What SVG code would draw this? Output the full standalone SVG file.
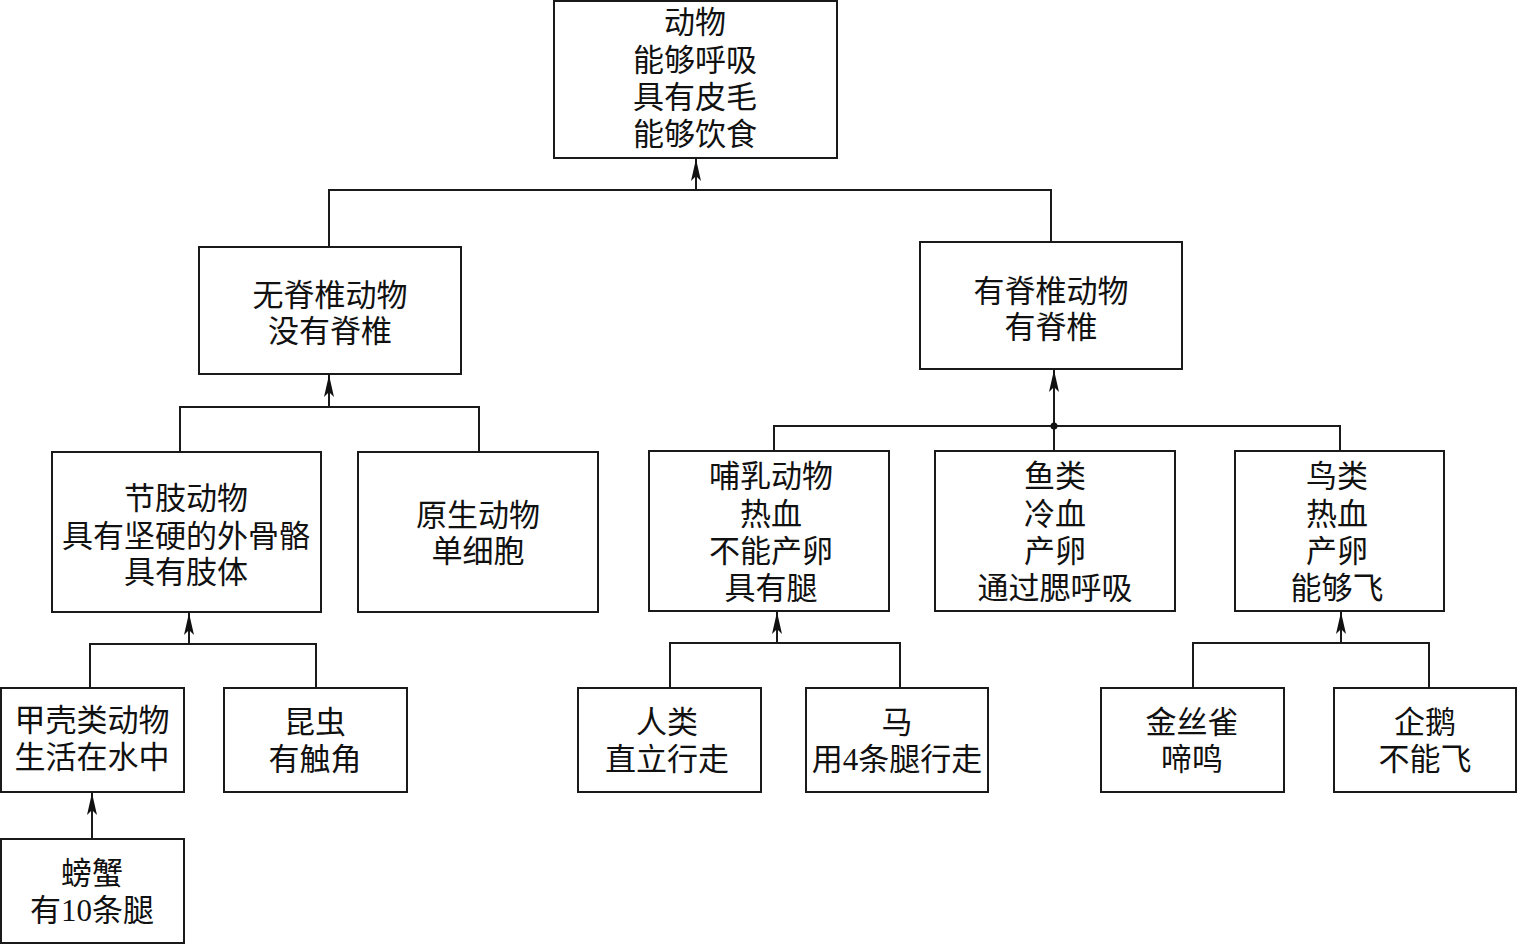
<svg xmlns="http://www.w3.org/2000/svg" width="1517" height="945" viewBox="0 0 1517 945">
<style>
rect.n{fill:#fff;stroke:#1a1a1a;stroke-width:2}
text{font-family:"Liberation Serif","Noto Sans CJK SC",serif;font-size:31px;fill:#111;text-anchor:middle;dominant-baseline:central}
.c path,.c line{stroke:#1a1a1a;stroke-width:2;fill:none}
</style>
<defs>
<marker id="arr" markerUnits="userSpaceOnUse" markerWidth="22" markerHeight="11" refX="22" refY="5.5" orient="auto" viewBox="0 0 22 11">
<path d="M22,5.5 L0,0.5 L5,5.5 L0,10.5 Z" fill="#111"/>
</marker>
</defs>
<g class="c" id="connectors">
<path d="M329,247 V190 H1051 V242"/>
<line x1="696" y1="190" x2="696" y2="159" marker-end="url(#arr)"/>
<path d="M180,452 V407 H479 V452"/>
<line x1="329" y1="407" x2="329" y2="375" marker-end="url(#arr)"/>
<path d="M774,451 V426 H1340 V451"/>
<line x1="1054" y1="451" x2="1054" y2="370" marker-end="url(#arr)"/>
<circle cx="1054" cy="426" r="3.5" fill="#111" stroke="none"/>
<path d="M90,688 V644 H316 V688"/>
<line x1="189" y1="644" x2="189" y2="613" marker-end="url(#arr)"/>
<line x1="92" y1="839" x2="92" y2="793" marker-end="url(#arr)"/>
<path d="M670,688 V643 H900 V688"/>
<line x1="777" y1="643" x2="777" y2="612" marker-end="url(#arr)"/>
<path d="M1193,688 V643 H1429 V688"/>
<line x1="1341" y1="643" x2="1341" y2="612" marker-end="url(#arr)"/>
</g>
<g id="animal"><rect class="n" x="554" y="1" width="283" height="157"/>
<text x="695" y="22">动物</text><text x="695" y="60">能够呼吸</text><text x="695" y="97">具有皮毛</text><text x="695" y="134">能够饮食</text></g>
<g id="invertebrate"><rect class="n" x="199" y="247" width="262" height="127"/>
<text x="330" y="295">无脊椎动物</text><text x="330" y="331">没有脊椎</text></g>
<g id="vertebrate"><rect class="n" x="920" y="242" width="262" height="127"/>
<text x="1051" y="291">有脊椎动物</text><text x="1051" y="327">有脊椎</text></g>
<g id="arthropod"><rect class="n" x="52" y="452" width="269" height="160"/>
<text x="186" y="498">节肢动物</text><text x="186" y="536">具有坚硬的外骨骼</text><text x="186" y="572">具有肢体</text></g>
<g id="protozoa"><rect class="n" x="358" y="452" width="240" height="160"/>
<text x="478" y="515">原生动物</text><text x="478" y="551">单细胞</text></g>
<g id="mammal"><rect class="n" x="649" y="451" width="240" height="160"/>
<text x="771" y="476">哺乳动物</text><text x="771" y="514">热血</text><text x="771" y="551">不能产卵</text><text x="771" y="588">具有腿</text></g>
<g id="fish"><rect class="n" x="935" y="451" width="240" height="160"/>
<text x="1055" y="476">鱼类</text><text x="1055" y="514">冷血</text><text x="1055" y="551">产卵</text><text x="1055" y="588">通过腮呼吸</text></g>
<g id="bird"><rect class="n" x="1235" y="451" width="209" height="160"/>
<text x="1337" y="476">鸟类</text><text x="1337" y="514">热血</text><text x="1337" y="551">产卵</text><text x="1337" y="588">能够飞</text></g>
<g id="crustacean"><rect class="n" x="1" y="688" width="183" height="104"/>
<text x="92" y="720">甲壳类动物</text><text x="92" y="757">生活在水中</text></g>
<g id="insect"><rect class="n" x="224" y="688" width="183" height="104"/>
<text x="315" y="722">昆虫</text><text x="315" y="759">有触角</text></g>
<g id="crab"><rect class="n" x="1" y="839" width="183" height="104"/>
<text x="92" y="873">螃蟹</text><text x="92" y="910">有10条腿</text></g>
<g id="human"><rect class="n" x="578" y="688" width="183" height="104"/>
<text x="667" y="722">人类</text><text x="667" y="759">直立行走</text></g>
<g id="horse"><rect class="n" x="806" y="688" width="182" height="104"/>
<text x="897" y="722">马</text><text x="897" y="759">用4条腿行走</text></g>
<g id="canary"><rect class="n" x="1101" y="688" width="183" height="104"/>
<text x="1192" y="722">金丝雀</text><text x="1192" y="759">啼鸣</text></g>
<g id="penguin"><rect class="n" x="1334" y="688" width="182" height="104"/>
<text x="1425" y="722">企鹅</text><text x="1425" y="759">不能飞</text></g>
</svg>
